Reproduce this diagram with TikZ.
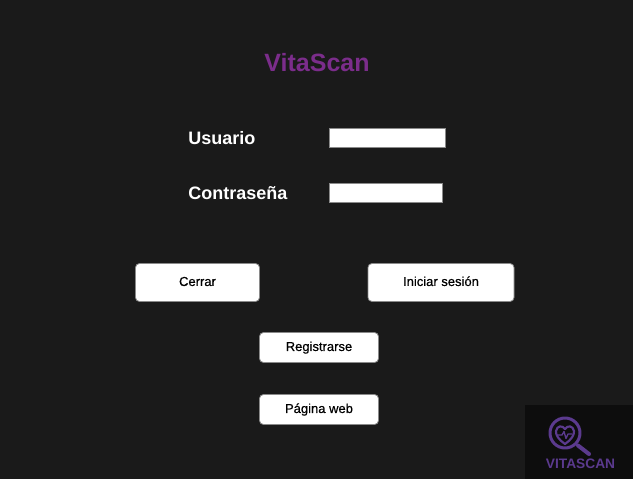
\documentclass[tikz,border=0pt]{standalone}
\usepackage{fontspec}
\setmainfont{Liberation Sans}
\newfontface\botonfont[FakeBold=0.45]{Liberation Sans}
\definecolor{fondo}{HTML}{1A1A1A}
\definecolor{fondologo}{HTML}{0D0D0D}
\definecolor{morado}{HTML}{7B2D8B}
\definecolor{moradologo}{HTML}{5B3A8E}
\definecolor{borde}{HTML}{8A8A8A}
\tikzset{
	etiqueta/.style={anchor=base west,inner sep=0pt,text=white,font=\fontsize{13.5pt}{16pt}\selectfont\bfseries},
	campo/.style={anchor=north west,inner sep=0pt,fill=white,draw=borde,line width=0.75pt},
	boton/.style={inner sep=0pt,text height=7.2pt,text depth=2pt,fill=white,draw=borde,line width=0.6pt,rounded corners=3pt,text=black,font=\fontsize{9.75pt}{12pt}\botonfont},
	lupa/.style={draw=moradologo,line cap=round,line join=round}
}
\begin{document}
\begin{tikzpicture}[x=0.75pt,y=-0.75pt]
	\fill[fondo] (0,0) rectangle (633,479);
	\useasboundingbox (0,0) rectangle (633,479);
	% titulo
	\node[inner sep=0pt,text=morado,font=\fontsize{18.75pt}{22pt}\selectfont\bfseries] (titulo) at (317,63) {VitaScan};
	% campos
	\node[etiqueta] (usuario) at (188,144) {Usuario};
	\node[etiqueta] (contrasena) at (188,199) {Contraseña};
	\node[campo,minimum width=87pt,minimum height=14.25pt] (campousuario) at (329,128) {};
	\node[campo,minimum width=84.75pt,minimum height=14.25pt] (campocontrasena) at (329,183) {};
	% botones
	\node[boton,minimum width=93pt,minimum height=28.5pt] (cerrar) at (197.5,282.5) {Cerrar};
	\node[boton,minimum width=109.5pt,minimum height=28.5pt] (iniciar) at (441,282.5) {Iniciar sesión};
	\node[boton,minimum width=89.25pt,minimum height=22.5pt] (registrarse) at (319,347.5) {Registrarse};
	\node[boton,minimum width=89.25pt,minimum height=22.5pt] (paginaweb) at (319,409.5) {Página web};
	% logo
	\fill[fondologo] (525,405) rectangle (633,479);
	\draw[lupa,line width=2.25pt] (565,433) circle (15);
	\draw[lupa,line width=3pt] (578,445.5) -- (589,454);
	\draw[lupa,line width=1.6pt] (565,444) .. controls (559,440) and (555.5,435) .. (556,431) .. controls (557,425.5) and (562.5,425) .. (565,429) .. controls (567.5,425) and (573,425.5) .. (574,431) .. controls (574.5,435) and (571,440) .. (565,444) -- cycle;
	\draw[lupa,line width=1pt] (558,435) -- (562,435) -- (564,431.5) -- (566,438.5) -- (568,434) -- (572,434);
	\node[inner sep=0pt,text=moradologo,font=\fontsize{10.3pt}{12pt}\selectfont\bfseries] (marca) at (580.5,463.5) {VITASCAN};
\end{tikzpicture}
\end{document}
